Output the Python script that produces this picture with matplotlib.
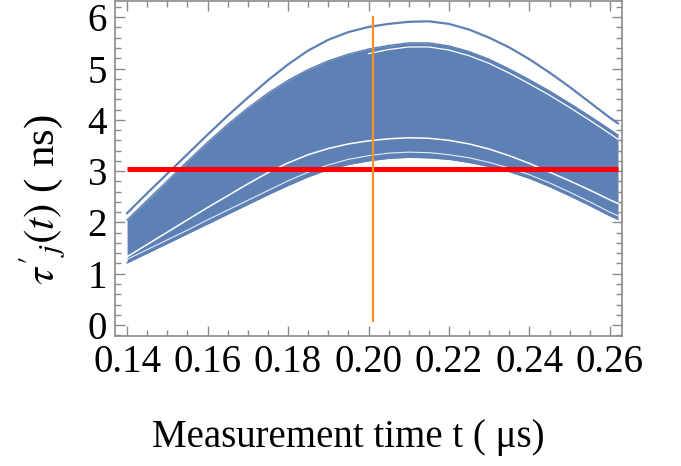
import matplotlib.pyplot as plt
from matplotlib.ticker import MultipleLocator, FixedLocator
import numpy as np

# --- 資料 ---
t_us = [0.140, 0.145, 0.150, 0.155, 0.160, 0.165, 0.170, 0.175, 0.180, 0.185, 0.190, 0.195, 0.200,
        0.205, 0.210, 0.215, 0.220, 0.225, 0.230, 0.235, 0.240, 0.245, 0.250, 0.255, 0.260, 0.262]

# 最上方單獨的一條曲線
upper_curve = [2.18, 2.57, 2.95, 3.33, 3.71, 4.08, 4.43, 4.77, 5.08, 5.35, 5.56, 5.71, 5.81,
               5.87, 5.91, 5.92, 5.87, 5.76, 5.60, 5.41, 5.18, 4.92, 4.64, 4.34, 4.04, 3.93]
# 曲線密集帶的上緣與下緣
band_top = [2.05, 2.43, 2.81, 3.19, 3.56, 3.91, 4.23, 4.52, 4.77, 4.98, 5.15, 5.28, 5.38,
            5.45, 5.50, 5.50, 5.44, 5.33, 5.18, 4.99, 4.78, 4.56, 4.32, 4.07, 3.81, 3.70]
band_bottom = [1.21, 1.40, 1.59, 1.78, 1.97, 2.16, 2.35, 2.54, 2.72, 2.89, 3.03, 3.13, 3.20,
               3.25, 3.27, 3.26, 3.23, 3.17, 3.09, 2.99, 2.86, 2.70, 2.52, 2.33, 2.13, 2.06]
# 帶內的白色縫隙 (曲線之間的空隙)
gap_top = [np.nan] * 12 + [5.29, 5.37, 5.42, 5.42, 5.36, 5.25, 5.10, 4.91, 4.70, 4.48,
                           4.24, 3.99, 3.73, 3.62]
gap_mid = [1.33, 1.57, 1.81, 2.05, 2.29, 2.52, 2.75, 2.97, 3.16, 3.32, 3.44, 3.53, 3.59,
           3.63, 3.65, 3.64, 3.60, 3.53, 3.43, 3.30, 3.15, 2.98, 2.81, 2.63, 2.44, 2.37]
gap_low = [1.28, 1.47, 1.66, 1.85, 2.05, 2.24, 2.43, 2.62, 2.81, 2.98, 3.12, 3.23, 3.30,
           3.35, 3.37, 3.36, 3.32, 3.26, 3.17, 3.06, 2.93, 2.77, 2.59, 2.40, 2.20, 2.13]

threshold_ns = 3.05
t_marker = 0.2012
marker_span = [0.06, 6.02]

x_ticks = [0.14, 0.16, 0.18, 0.20, 0.22, 0.24, 0.26]
x_tick_labels = ['0.14', '0.16', '0.18', '0.20', '0.22', '0.24', '0.26']
y_ticks = [0, 1, 2, 3, 4, 5, 6]

BLUE = '#5E81B5'
FRAME = '#8a8a8a'

plt.rcParams['font.family'] = ['Liberation Serif', 'DejaVu Serif']
plt.rcParams['mathtext.fontset'] = 'stix'

fig = plt.figure(figsize=(6.81, 4.66), dpi=100)
ax = fig.add_axes([115 / 681, 1 - 336 / 466, 507 / 681, 335 / 466])

# --- 繪圖 ---
ax.fill_between(t_us, band_bottom, band_top, color=BLUE, lw=0)
ax.plot(t_us, band_top, color=BLUE, lw=1.0)
ax.plot(t_us, band_bottom, color=BLUE, lw=1.0)
ax.plot(t_us, upper_curve, color=BLUE, lw=1.6)
ax.plot(t_us, gap_top, color='white', lw=0.9)
ax.plot(t_us, gap_mid, color='white', lw=1.1)
ax.plot(t_us, gap_low, color='white', lw=0.8, alpha=0.85)

ax.hlines(threshold_ns, t_us[0], t_us[-1], color='#FF0000', lw=3.6)
ax.vlines(t_marker, marker_span[0], marker_span[1], color='#FF8F1F', lw=1.6)

# --- 座標軸設定 ---
ax.set_xlim(0.137, 0.263)
ax.set_ylim(-0.214, 6.316)
ax.xaxis.set_major_locator(FixedLocator(x_ticks))
ax.set_xticklabels(x_tick_labels)
ax.yaxis.set_major_locator(FixedLocator(y_ticks))
ax.xaxis.set_minor_locator(MultipleLocator(0.005))
ax.yaxis.set_minor_locator(MultipleLocator(0.2))

ax.tick_params(which='both', direction='in', top=True, right=True, color=FRAME, width=1.0)
ax.tick_params(which='major', length=7, labelsize=28, pad=6, labelcolor='black')
ax.tick_params(which='minor', length=4)
for s in ax.spines.values():
    s.set_color(FRAME)
    s.set_linewidth(1.2)

fig.text(42 / 681, 1 - 200 / 466, r"$\tau'_j(t)$ ( ns)", rotation=90, fontsize=31,
         ha='center', va='center')
fig.text(348 / 681, 1 - 438 / 466, 'Measurement time t ( \u03bcs)', fontsize=28,
         ha='center', va='center')

plt.savefig('out.png', dpi=100)
plt.close()
